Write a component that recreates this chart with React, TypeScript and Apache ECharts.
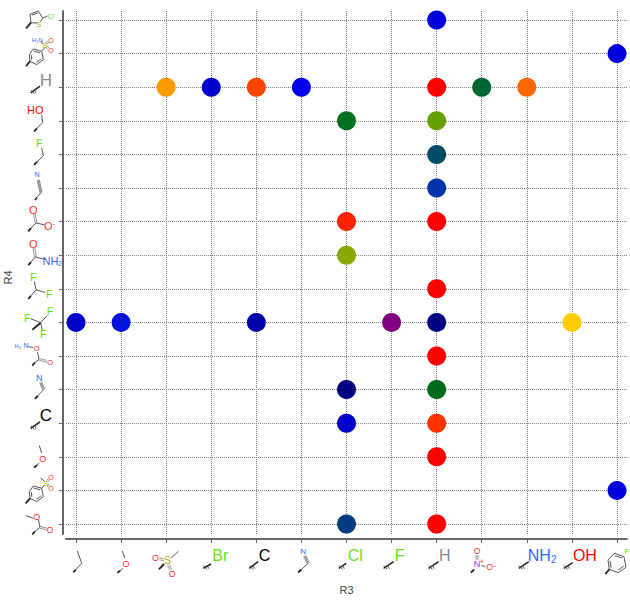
import React, { useEffect, useRef } from "react";
import * as echarts from "echarts";

const r3Categories = ["propyl", "methoxy", "mesyl", "Br", "C", "CN", "Cl", "F", "H", "NO2", "NH2", "OH", "4-fluorophenyl"];
const r4Categories = ["5-chlorothienyl", "4-sulfamoylphenyl", "H", "CH2OH", "CH2F", "CH2CN", "COO-", "CONH2", "CHF2", "CF3", "COONH2", "CN", "C", "OCH3", "tosyl", "COOCH3"];

const pointR3 = [8, 12, 2, 3, 4, 5, 8, 9, 10, 6, 8, 8, 8, 6, 8, 6, 8, 0, 1, 4, 7, 8, 11, 8, 6, 8, 6, 8, 8, 12, 6, 8];
const pointR4 = [0, 1, 2, 2, 2, 2, 2, 2, 2, 3, 3, 4, 5, 6, 6, 7, 8, 9, 9, 9, 9, 9, 9, 10, 11, 11, 12, 12, 13, 14, 15, 15];
const pointColors = [
  "#0000dd", "#0000dd", "#ff9900", "#0000cc", "#ff4400", "#0000ee", "#ff0000", "#006633", "#ff6600",
  "#007020", "#66a000", "#004d66", "#0033aa", "#ff2200", "#ff0000", "#88aa00", "#ff0000",
  "#0000cc", "#0011dd", "#0000aa", "#800080", "#000080", "#ffcc00", "#ff0000",
  "#000080", "#006a1a", "#0000cc", "#ff3300", "#ff0000", "#0000dd", "#003d80", "#ff0000",
];

const axisColor = "#666666";
const gridColor = "#808080";
const RED = "#ff3030";
const GREEN = "#66dd22";
const BLUE = "#3366ff";
const SULFUR = "#b2b200";
const GRAY = "#858a8c";
const FONT = "Arial, 'Liberation Sans', sans-serif";

type Seg = [number, number, number, number];
type Atom = [string, number, number, string, number];
type Mol = { b?: Seg[]; d?: Seg[]; t?: Seg[]; w?: Seg[]; s?: Seg[]; a?: Atom[] };

const stub = (x: number, y: number, dx: number, dy: number): Seg => [x, y, x + dx, y + dy];

const xMols: Mol[] = [
  { b: [[1.3, 551, 5.7, 563.3], [5.7, 563.3, 0, 569.5]], w: [[0, 569.5, -2.7, 572.3]] },
  { b: [[1.3, 551, 3.7, 558], [1.7, 568.7, -1, 570.7]], w: [[-1, 570.7, -3.7, 572.7]], a: [["O", 5, 564.3, RED, 9]] },
  {
    b: [[4.7, 558.3, 12.3, 551.3]], d: [[-6.7, 558.7, -2, 560], [2.3, 565, 4.7, 570]], w: [[-2, 564, -7.3, 569.3]],
    a: [["S", 1.3, 560.7, SULFUR, 10], ["O", -10.7, 557.7, RED, 9], ["O", 6, 574.3, RED, 9]],
  },
  { s: [stub(-8, 568.3, 8, -4.3)], a: [["Br", 9, 555, GREEN, 16]] },
  { s: [stub(-7, 568.3, 8.7, -6.6)], a: [["C", 8.3, 555, "#000000", 16]] },
  { t: [[3.3, 555.7, 6.7, 563.3]], b: [[6.7, 563.3, 0, 569.5]], w: [[0, 569.5, -3.3, 572.7]], a: [["N", 1.7, 551, BLUE, 8]] },
  { s: [stub(-7.7, 568.3, 7.4, -5)], a: [["Cl", 8.7, 555, GREEN, 16]] },
  { s: [stub(-8, 568.3, 10, -6.6)], a: [["F", 8, 555, GREEN, 16]] },
  { s: [stub(-8, 568.3, 10, -6.6)], a: [["H", 8, 555, GRAY, 16]] },
  {
    d: [[-4.7, 555, -4.7, 560]], b: [[0, 565.5, 3.5, 566.5]], w: [[-11, 572.7, -7.5, 569.5]],
    a: [["O", -4.7, 551, RED, 9], ["N", -4.7, 564.3, BLUE, 9], ["+", 0, 561.5, RED, 7], ["O", 8, 567.3, RED, 9], ["-", 13, 565, RED, 8]],
  },
  { s: [stub(-8, 568.3, 10, -6.6)], a: [["NH", 12.5, 555, BLUE, 16], ["2", 27, 559, BLUE, 10]] },
  { s: [stub(-8, 568.3, 8.7, -5.6)], a: [["OH", 13, 555, "#ff0000", 16]] },
  {
    b: [[-2.3, 553.3, 7, 556.7], [7, 556.7, 9, 567.3], [9, 567.3, 1.3, 572.7], [1.3, 572.7, -7.7, 569.3], [-7.7, 569.3, -9, 560], [-9, 560, -2.3, 553.3], [-1.8, 555.6, 5, 558], [6.8, 566, 1.2, 570.2], [-6, 567.5, -6.9, 561]],
    w: [[-7.7, 569.3, -11.7, 574]], a: [["F", 10, 551.5, GREEN, 8]],
  },
];

const ringAt = (dy: number): Seg[] => [
  [29.3, 1 + dy, 33.3, -4.7 + dy], [33.3, -4.7 + dy, 41.7, -2.3 + dy], [41.7, -2.3 + dy, 43.3, 6 + dy],
  [43.3, 6 + dy, 36.7, 11 + dy], [36.7, 11 + dy, 30, 7.7 + dy], [30, 7.7 + dy, 29.3, 1 + dy],
  [33.8, -2.5 + dy, 40, -0.8 + dy], [41.2, 5.2 + dy, 36.5, 8.7 + dy], [31.8, 6.2 + dy, 31.4, 1.6 + dy],
];

const yMols: Mol[] = [
  {
    b: [[30, -5.7, 38.3, -9], [38.3, -9, 42.7, -1.7], [42.7, -1.7, 40.5, 1.5], [37.5, 3, 31, 2.7], [31, 2.7, 30, -5.7], [32, -5, 38, -7], [42.7, -2, 47.5, -4]],
    w: [[31, 2.7, 26, 8.3]], a: [["S", 39, 4, SULFUR, 7], ["Cl", 50.7, -4, GREEN, 7]],
  },
  {
    b: [...ringAt(0), [41.7, -2.5, 45, -6], [40.5, -12, 43.5, -10]], d: [[46, -10, 48.5, -12], [46.5, -7, 48.5, -5]], w: [[30, 7.7, 26, 12.7]],
    a: [["H₂N", 37.3, -13.3, BLUE, 6], ["S", 45, -8, SULFUR, 8], ["O", 51, -13.3, RED, 7], ["O", 51, -3, RED, 7]],
  },
  { s: [stub(30.7, 5.7, 9.3, -6.7)], a: [["H", 46, -7, GRAY, 17]] },
  { b: [[41.7, -6, 42.7, 1.7], [42.7, 1.7, 37, 7.5]], w: [[37, 7.5, 34, 10.7]], a: [["HO", 35.3, -11, "#ff0000", 11]] },
  { b: [[41.7, -6.2, 43.3, 1.5], [43.3, 1.5, 37, 7.5]], w: [[37, 7.5, 34, 10.5]], a: [["F", 39.3, -11, GREEN, 11]] },
  { t: [[38.3, -8, 41, 4.7]], b: [[41, 4.7, 37, 9.5]], w: [[37, 9.5, 35, 12]], a: [["N", 37, -13, BLUE, 7]] },
  {
    d: [[34.3, -8, 36, 1.3]], b: [[36, 1.3, 44.3, 3.3], [36, 1.3, 31, 6.5]], w: [[31, 6.5, 28.3, 9.7]],
    a: [["O", 33.3, -12, RED, 11], ["O", 48.3, 4.7, RED, 11], ["-", 54, 1.5, RED, 8]],
  },
  {
    d: [[34, -7.5, 35.3, 1.7]], b: [[35.3, 1.7, 45, 4.3], [35.3, 1.7, 31, 7]], w: [[31, 7, 28.3, 10]],
    a: [["O", 33.3, -11.7, RED, 11], ["NH", 50.5, 5.7, BLUE, 11], ["2", 60, 8, BLUE, 7]],
  },
  {
    b: [[36, 1, 34.3, -7.3], [36, 1, 45, 3.7], [36, 1, 31, 7]], w: [[31, 7, 28.3, 10]],
    a: [["F", 33.3, -11.7, GREEN, 11], ["F", 49.3, 5, GREEN, 11]],
  },
  {
    b: [[40.7, 0.3, 30.7, -3.7], [40.7, 0.3, 47.3, -7], [40.7, 0.3, 42.3, 8]], w: [[40.7, 0.3, 32.3, 7.3]],
    a: [["F", 27.3, -4.3, GREEN, 11], ["F", 50, -11, GREEN, 11], ["F", 43.3, 12, GREEN, 11]],
  },
  {
    b: [[28.5, -9.5, 33, -8.5], [37.5, -4, 39, 3.3], [39, 3.3, 35, 6.5]], d: [[39, 3.3, 46.5, 5.3]], w: [[35, 6.5, 32.3, 9.7]],
    a: [["H₂", 17.5, -10, BLUE, 6], ["N", 26, -10, BLUE, 7], ["O", 36.7, -7, RED, 8], ["O", 50, 6.3, RED, 8]],
  },
  { t: [[40.7, -7.3, 43.7, 0]], b: [[43.7, 0, 38, 6]], w: [[38, 6, 35, 9.3]], a: [["N", 39.3, -11.7, BLUE, 9]] },
  { s: [stub(30.7, 5.3, 9.3, -6.6)], a: [["C", 46, -7.3, "#000000", 17]] },
  { b: [[39.3, -11.3, 41.7, -3.7], [39.3, 6.3, 37, 8.5]], w: [[37, 8.5, 34, 10.7]], a: [["O", 42.7, 2, RED, 9]] },
  {
    b: [...ringAt(0.2), [41.7, -2, 44.5, -5.5], [40.7, -12.3, 44.3, -9.3]], d: [[47, -9, 49, -11], [47, -5.5, 49, -4]], w: [[30, 8, 25.7, 13]],
    a: [["S", 45.7, -7.3, SULFUR, 8], ["O", 51, -12.7, RED, 7], ["O", 51, -2.3, RED, 7]],
  },
  {
    b: [[26, -8.3, 33.3, -5.7], [38.3, -4.7, 40, 3.3], [40, 3.3, 35, 7.5]], d: [[40, 3.3, 46.7, 5]], w: [[35, 7.5, 32.3, 10.3]],
    a: [["O", 36.7, -7.3, RED, 9], ["O", 50, 6, RED, 9]],
  },
];

const lineEl = (s: Seg, stroke: string, lineWidth: number) => ({
  type: "line",
  silent: true,
  shape: { x1: s[0], y1: s[1], x2: s[2], y2: s[3] },
  style: { stroke, lineWidth },
});

function offsetLines(s: Seg, offsets: number[], stroke: string) {
  const dx = s[2] - s[0];
  const dy = s[3] - s[1];
  const len = Math.hypot(dx, dy) || 1;
  const nx = -dy / len;
  const ny = dx / len;
  return offsets.map((o) => lineEl([s[0] + nx * o, s[1] + ny * o, s[2] + nx * o, s[3] + ny * o], stroke, 0.7));
}

function molChildren(m: Mol) {
  const out: any[] = [];
  (m.b || []).forEach((s) => out.push(lineEl(s, "#555555", 1)));
  (m.d || []).forEach((s) => out.push(...offsetLines(s, [-0.9, 0.9], "#666666")));
  (m.t || []).forEach((s) => out.push(...offsetLines(s, [-1.1, 0, 1.1], "#555555")));
  (m.w || []).forEach((s) => out.push(lineEl(s, "#222222", 1.8)));
  (m.s || []).forEach((s) => {
    out.push(lineEl(s, "#222222", 1.6));
    const cx = s[0] + 2;
    const cy = s[1] - 0.8;
    out.push(lineEl([cx - 1.8, cy - 2, cx + 1.8, cy + 2], "#444444", 0.9));
    out.push(lineEl([cx + 1.6, cy - 2.2, cx + 3.6, cy + 1.2], "#444444", 0.9));
  });
  (m.a || []).forEach((a) =>
    out.push({
      type: "text",
      silent: true,
      style: { text: a[0], x: a[1], y: a[2], fill: a[3], font: `${a[4]}px ${FONT}`, align: "center", verticalAlign: "middle" },
    }),
  );
  return out;
}

export default function App() {
  const ref = useRef<HTMLDivElement>(null);
  useEffect(() => {
    const chart = echarts.init(ref.current!, undefined, { renderer: "svg" });
    const xTicks = r3Categories.map((_, i) => i);
    const yTicks = r4Categories.map((_, i) => i);
    const splitLine = { show: true, lineStyle: { type: "dotted", color: gridColor, width: 1 } };
    chart.setOption({
      animation: false,
      textStyle: { fontFamily: FONT },
      grid: { left: 66, right: 3, top: 11, bottom: 66, outerBoundsMode: "none" },
      xAxis: {
        type: "value",
        min: -0.222,
        max: 12.222,
        position: "bottom",
        offset: 5,
        name: "R3",
        nameLocation: "middle",
        nameGap: 45,
        nameTextStyle: { fontSize: 11, color: "#444444" },
        axisLine: { onZero: false, lineStyle: { color: axisColor, width: 2 } },
        axisTick: { customValues: xTicks, length: 4, lineStyle: { color: axisColor, width: 1 } },
        axisLabel: { show: false, customValues: xTicks },
        splitLine,
      },
      yAxis: {
        type: "value",
        inverse: true,
        min: -0.268,
        max: 15.298,
        position: "left",
        offset: 3,
        name: "R4",
        nameLocation: "middle",
        nameGap: 50,
        nameTextStyle: { fontSize: 11, color: "#444444", padding: [9, 10, 0, 0] },
        axisLine: { onZero: false, lineStyle: { color: axisColor, width: 2 } },
        axisTick: { customValues: yTicks, length: 4, lineStyle: { color: axisColor, width: 1 } },
        axisLabel: { show: false, customValues: yTicks },
        splitLine,
      },
      series: [
        {
          type: "scatter",
          symbol: "circle",
          symbolSize: 19,
          data: pointR3.map((x, i) => ({ value: [x, pointR4[i]], itemStyle: { color: pointColors[i], opacity: 1 } })),
        },
      ],
    });
    const groups: any[] = [];
    xMols.forEach((m, i) => {
      const x = chart.convertToPixel({ xAxisIndex: 0 }, i) as number;
      groups.push({ type: "group", x, y: 0, children: molChildren(m) });
    });
    yMols.forEach((m, i) => {
      const y = chart.convertToPixel({ yAxisIndex: 0 }, i) as number;
      groups.push({ type: "group", x: 0, y, children: molChildren(m) });
    });
    chart.setOption({ graphic: groups });
    return () => chart.dispose();
  }, []);
  return <div ref={ref} style={{ position: "absolute", left: 0, top: 0, width: 630, height: 600 }} />;
}
